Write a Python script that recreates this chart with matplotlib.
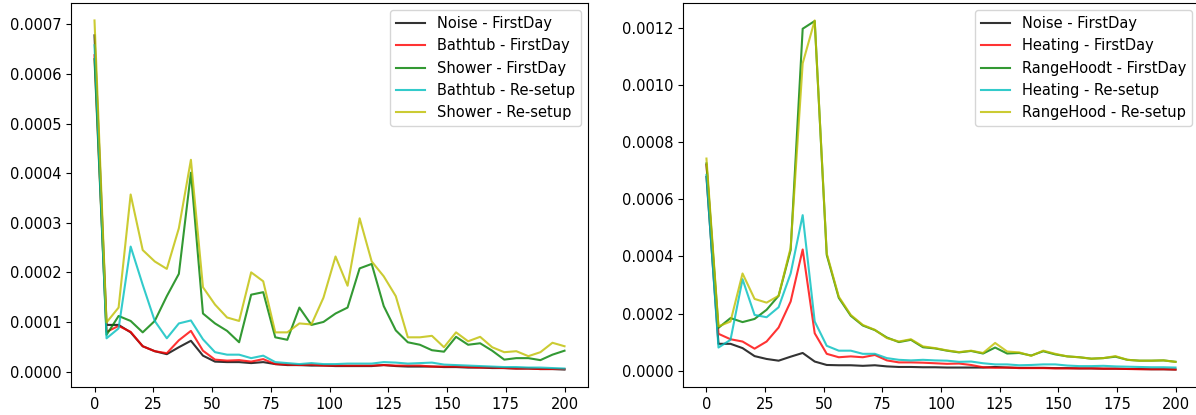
import numpy as np
import matplotlib
matplotlib.use("Agg")
import matplotlib.pyplot as plt

# frequency bins (40 points from 0 to 200)
freq = np.linspace(0, 200, 40)

# values in units of 1e-4
noise = [6.78, 0.94, 0.94, 0.79, 0.51, 0.41, 0.35, 0.49, 0.62, 0.32,
         0.20, 0.19, 0.19, 0.17, 0.19, 0.15, 0.13, 0.13, 0.12, 0.12,
         0.11, 0.11, 0.11, 0.11, 0.13, 0.11, 0.10, 0.10, 0.10, 0.09,
         0.09, 0.08, 0.08, 0.07, 0.07, 0.06, 0.06, 0.05, 0.05, 0.04]

bathtub_first = [6.38, 0.80, 0.92, 0.80, 0.51, 0.41, 0.37, 0.63, 0.82, 0.42,
                 0.24, 0.22, 0.23, 0.20, 0.25, 0.15, 0.14, 0.13, 0.14, 0.12,
                 0.12, 0.12, 0.12, 0.12, 0.13, 0.12, 0.12, 0.12, 0.10, 0.10,
                 0.10, 0.09, 0.08, 0.08, 0.07, 0.06, 0.06, 0.05, 0.05, 0.05]

shower_first = [6.30, 0.74, 1.12, 1.02, 0.79, 1.02, 1.52, 1.97, 4.01, 1.17,
                0.97, 0.82, 0.59, 1.55, 1.60, 0.69, 0.64, 1.29, 0.94, 1.00,
                1.17, 1.29, 2.08, 2.17, 1.32, 0.83, 0.59, 0.54, 0.43, 0.40,
                0.70, 0.54, 0.57, 0.42, 0.24, 0.27, 0.27, 0.23, 0.34, 0.42]

bathtub_reset = [6.58, 0.67, 0.87, 2.52, 1.75, 1.02, 0.67, 0.97, 1.03, 0.65,
                 0.39, 0.34, 0.34, 0.27, 0.32, 0.19, 0.17, 0.15, 0.17, 0.15,
                 0.15, 0.16, 0.16, 0.16, 0.19, 0.18, 0.16, 0.17, 0.18, 0.14,
                 0.13, 0.12, 0.11, 0.10, 0.09, 0.09, 0.08, 0.08, 0.07, 0.06]

shower_reset = [7.08, 0.99, 1.29, 3.57, 2.45, 2.22, 2.07, 2.89, 4.27, 1.70,
                1.35, 1.09, 1.02, 2.00, 1.82, 0.79, 0.79, 0.97, 0.95, 1.49,
                2.32, 1.73, 3.09, 2.22, 1.92, 1.52, 0.69, 0.69, 0.72, 0.49,
                0.79, 0.61, 0.70, 0.49, 0.39, 0.41, 0.31, 0.39, 0.58, 0.51]

heating_first = [7.20, 1.29, 1.10, 1.02, 0.77, 1.02, 1.51, 2.42, 4.24, 1.31,
                 0.59, 0.47, 0.50, 0.47, 0.55, 0.36, 0.29, 0.29, 0.28, 0.26,
                 0.24, 0.25, 0.20, 0.12, 0.10, 0.11, 0.09, 0.09, 0.09, 0.08,
                 0.08, 0.08, 0.08, 0.07, 0.07, 0.06, 0.05, 0.05, 0.05, 0.04]

rangehood_first = [7.25, 1.50, 1.84, 1.70, 1.81, 2.13, 2.62, 4.22, 11.96, 12.23,
                   4.05, 2.55, 1.92, 1.58, 1.42, 1.16, 1.00, 1.08, 0.82, 0.78,
                   0.70, 0.64, 0.69, 0.60, 0.81, 0.60, 0.62, 0.53, 0.68, 0.57,
                   0.50, 0.47, 0.42, 0.44, 0.49, 0.38, 0.35, 0.35, 0.36, 0.31]

heating_reset = [6.85, 0.81, 1.08, 3.20, 1.95, 1.87, 2.22, 3.40, 5.44, 1.72,
                 0.87, 0.70, 0.70, 0.59, 0.59, 0.44, 0.38, 0.36, 0.38, 0.36,
                 0.35, 0.31, 0.32, 0.26, 0.22, 0.22, 0.19, 0.20, 0.22, 0.22,
                 0.18, 0.16, 0.16, 0.17, 0.15, 0.14, 0.13, 0.12, 0.12, 0.11]

rangehood_reset = [7.42, 1.55, 1.72, 3.40, 2.51, 2.38, 2.62, 4.30, 10.75, 12.25,
                   4.10, 2.59, 1.95, 1.60, 1.43, 1.14, 1.02, 1.10, 0.85, 0.79,
                   0.71, 0.65, 0.70, 0.62, 0.97, 0.67, 0.64, 0.52, 0.70, 0.59,
                   0.50, 0.47, 0.42, 0.44, 0.51, 0.38, 0.35, 0.35, 0.36, 0.31]

left_series = [("Noise - FirstDay", noise, "k"),
               ("Bathtub - FirstDay", bathtub_first, "r"),
               ("Shower - FirstDay", shower_first, "g"),
               ("Bathtub - Re-setup", bathtub_reset, "c"),
               ("Shower - Re-setup", shower_reset, "y")]

right_series = [("Noise - FirstDay", noise, "k"),
                ("Heating - FirstDay", heating_first, "r"),
                ("RangeHoodt - FirstDay", rangehood_first, "g"),
                ("Heating - Re-setup", heating_reset, "c"),
                ("RangeHood - Re-setup", rangehood_reset, "y")]

plt.rcParams['font.size'] = 10.5

fig = plt.figure(figsize=(11.96, 4.15), dpi=100)
ax1 = fig.add_axes([71/1196, 28/415, 517/1196, 384/415])
ax2 = fig.add_axes([683/1196, 28/415, 516/1196, 384/415])

for ax, series in [(ax1, left_series), (ax2, right_series)]:
    for label, vals, col in series:
        ax.plot(freq, np.array(vals) * 1e-4, color=col, alpha=0.8, lw=1.5, label=label)
    ax.legend(loc="upper right")

fig.savefig("out.png", dpi=100)
